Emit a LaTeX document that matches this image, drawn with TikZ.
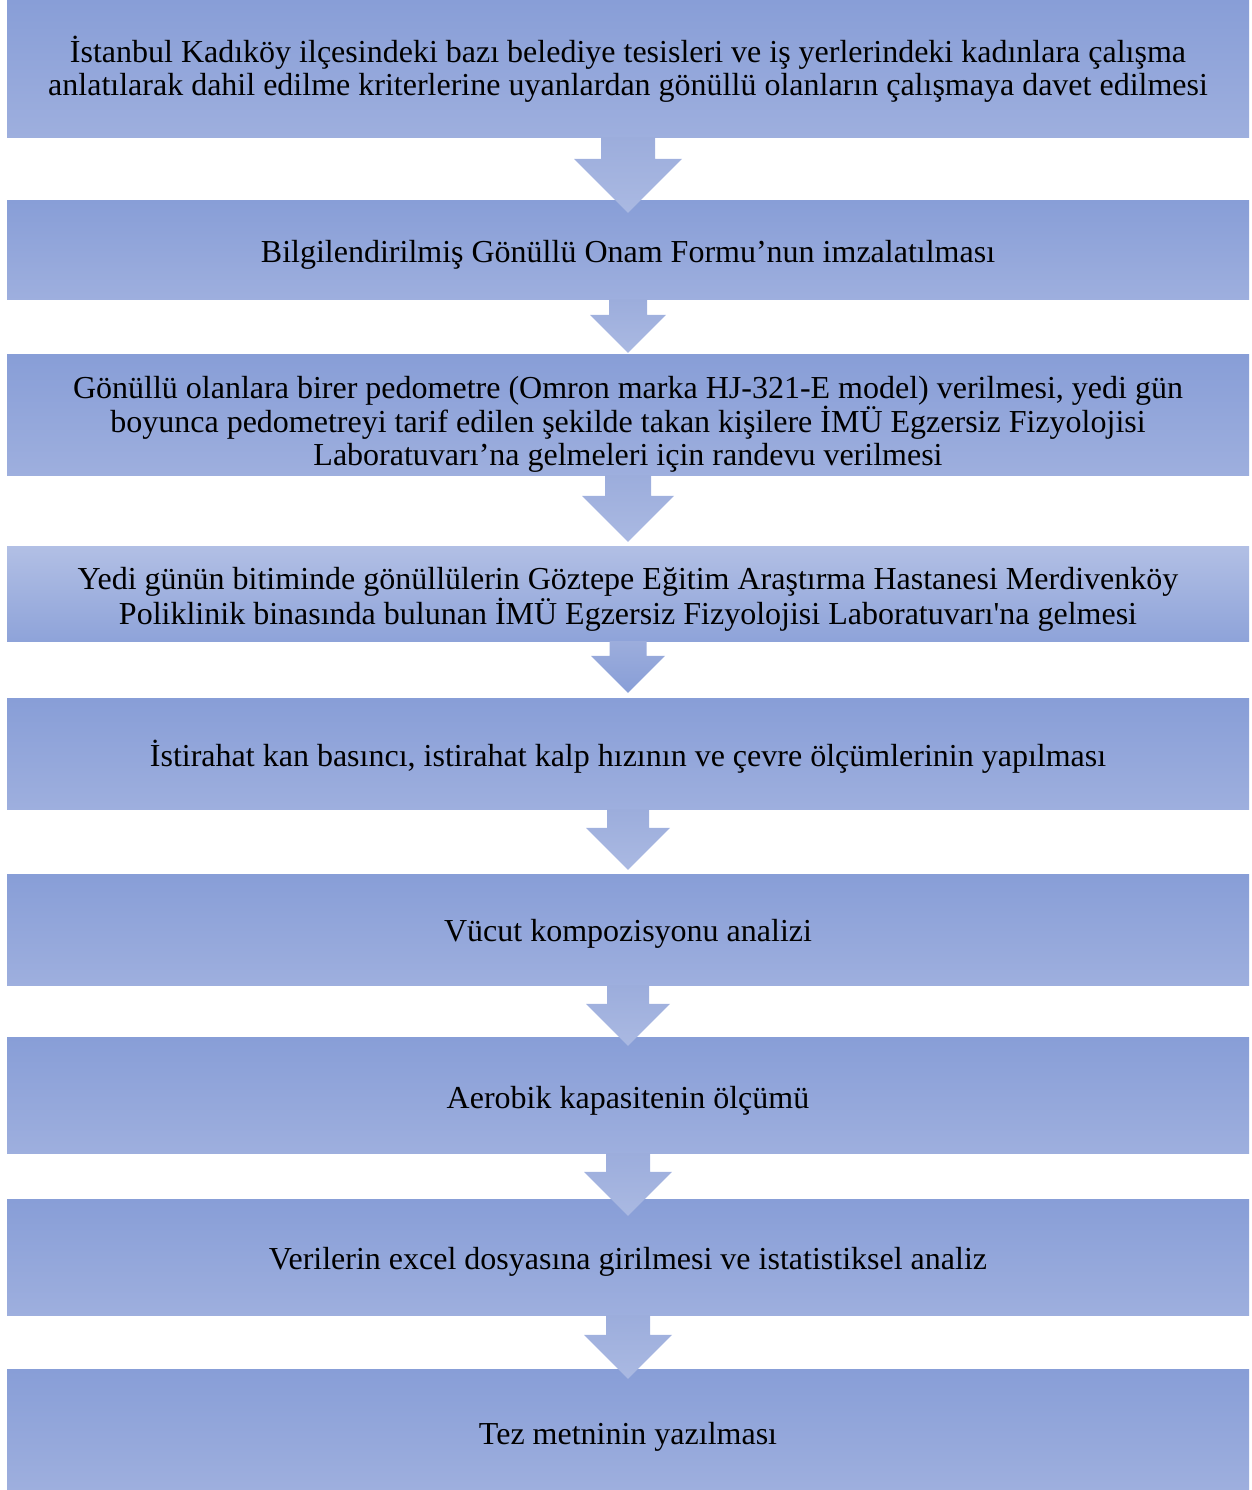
\documentclass[tikz,border=0pt]{standalone}
\usepackage{fontspec}
\setmainfont{Liberation Serif}
\usetikzlibrary{calc}

\definecolor{boxtop}{RGB}{136,158,215}
\definecolor{boxbot}{RGB}{158,175,222}
\definecolor{arrowtop}{RGB}{156,173,220}
\definecolor{arrowbot}{RGB}{170,185,226}

% block arrow from one step to the next: #1 style, #2 from, #3 to, #4 shaft half width, #5 how far the tip runs into #3
\newcommand{\flowArrow}[5][arrowshade]{%
  \path[#1] ($(#2.south)+({-#4},1)$) -- ($(#2.south)+({#4},1)$)
    -- ($(#3.north)+({#4},{2*#4-(#5)})$) -- ($(#3.north)+({2*#4},{2*#4-(#5)})$)
    -- ($(#3.north)+(0,{-(#5)})$)
    -- ($(#3.north)+({-2*#4},{2*#4-(#5)})$) -- ($(#3.north)+({-#4},{2*#4-(#5)})$) -- cycle;}

\begin{document}
\begin{tikzpicture}[x=1pt, y=1pt,
        stepbox/.style={rectangle, inner sep=0pt, minimum width=1242pt, top color=boxtop, bottom color=boxbot},
        steptext/.style={inner sep=0pt, align=center, font=\fontsize{32}{33}\selectfont},
        arrowshade/.style={top color=arrowtop, bottom color=arrowbot}
    ]
        \useasboundingbox (0,0) rectangle (1251,1490);

        % Step boxes
        \node[stepbox, minimum height=138pt] (s1) at (628,1421) {};
        \node[stepbox, minimum height=99pt] (s2) at (628,1239.5) {};
        \node[stepbox, minimum height=121pt] (s3) at (628,1074.5) {};
        \node[stepbox, minimum height=95pt, top color=boxbot!80!white, bottom color=boxtop!95!white] (s4) at (628,895.5) {};
        \node[stepbox, minimum height=111pt] (s5) at (628,735.5) {};
        \node[stepbox, minimum height=111pt] (s6) at (628,559.5) {};
        \node[stepbox, minimum height=116pt] (s7) at (628,394) {};
        \node[stepbox, minimum height=116pt] (s8) at (628,232) {};
        \node[stepbox, minimum height=120pt] (s9) at (628,60) {};

        % Step texts
        \node[steptext] (t1) at ([yshift=0pt]s1) {İstanbul Kadıköy ilçesindeki bazı belediye tesisleri ve iş yerlerindeki kadınlara çalışma\\anlatılarak dahil edilme kriterlerine uyanlardan gönüllü olanların çalışmaya davet edilmesi};
        \node[steptext] (t2) at ([yshift=-4pt]s2) {Bilgilendirilmiş Gönüllü Onam Formu’nun imzalatılması};
        \node[steptext] (t3) at ([yshift=-9pt]s3) {Gönüllü olanlara birer pedometre (Omron marka HJ-321-E model) verilmesi, yedi gün\\boyunca pedometreyi tarif edilen şekilde takan kişilere İMÜ Egzersiz Fizyolojisi\\Laboratuvarı’na gelmeleri için randevu verilmesi};
        \node[steptext] (t4) at ([yshift=-5pt]s4) {Yedi günün bitiminde gönüllülerin Göztepe Eğitim Araştırma Hastanesi Merdivenköy\\Poliklinik binasında bulunan İMÜ Egzersiz Fizyolojisi Laboratuvarı\textquotesingle na gelmesi};
        \node[steptext] (t5) at ([yshift=-2pt]s5) {İstirahat kan basıncı, istirahat kalp hızının ve çevre ölçümlerinin yapılması};
        \node[steptext] (t6) at ([yshift=-3pt]s6) {Vücut kompozisyonu analizi};
        \node[steptext] (t7) at ([yshift=-5pt]s7) {Aerobik kapasitenin ölçümü};
        \node[steptext] (t8) at ([yshift=-4pt]s8) {Verilerin excel dosyasına girilmesi ve istatistiksel analiz};
        \node[steptext] (t9) at ([yshift=-7pt]s9) {Tez metninin yazılması};

        % Arrows between steps
        \flowArrow{s1}{s2}{27}{12}
        \flowArrow{s2}{s3}{19}{-2}
        \flowArrow{s3}{s4}{23}{-5}
        \flowArrow[top color=arrowtop, bottom color=boxtop]{s4}{s5}{18.5}{-6}
        \flowArrow{s5}{s6}{21}{-5}
        \flowArrow{s6}{s7}{21}{8}
        \flowArrow{s7}{s8}{22}{16}
        \flowArrow{s8}{s9}{22}{9}
    \end{tikzpicture}
\end{document}
